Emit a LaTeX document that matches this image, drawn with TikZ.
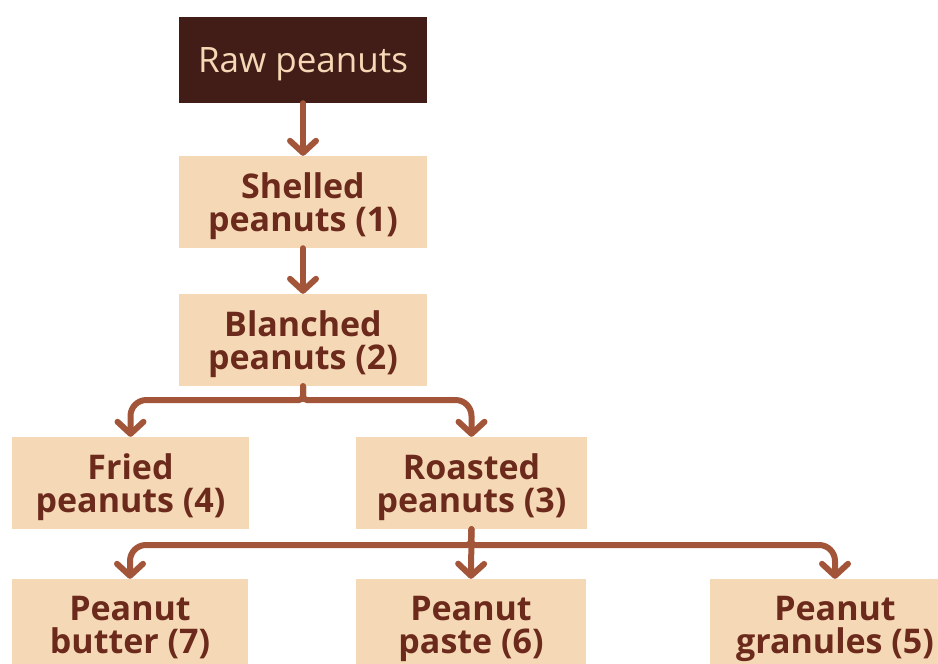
\documentclass[tikz,border=0pt]{standalone}
\usepackage{fontspec}
\setmainfont{Open Sans}
\usetikzlibrary{arrows.meta}
\definecolor{darkbox}{HTML}{421C17}
\definecolor{peach}{HTML}{F5D8B5}
\definecolor{brtext}{HTML}{6B2A1B}
\definecolor{arrowc}{HTML}{A3553A}
\tikzset{
  rawbox/.style={fill=darkbox, text=peach, minimum width=248pt, minimum height=86pt, inner sep=0pt, text depth=0pt, font=\fontsize{35}{33}\selectfont},
  stepbox/.style={fill=peach, text=brtext, inner sep=0pt, minimum height=92pt, align=center, text depth=0pt, font=\fontsize{34}{33}\selectfont\bfseries},
  arr/.style={draw=arrowc, line width=6pt, line cap=round, -{Straight Barb[length=12pt,width=26pt,line cap=round,line join=round]}},
}
\begin{document}
\begin{tikzpicture}[x=1pt,y=-1pt]
\clip (0,0) rectangle (938,664);
\fill[white] (0,0) rectangle (938,664);
\node[rawbox] (raw) at (303,60) {Raw peanuts};
\node[stepbox, minimum width=248pt] (shelled) at (303,202) {Shelled\\peanuts (1)};
\node[stepbox, minimum width=248pt] (blanched) at (303,340) {Blanched\\peanuts (2)};
\node[stepbox, minimum width=237pt] (fried) at (130.5,483) {Fried\\peanuts (4)};
\node[stepbox, minimum width=231pt] (roasted) at (471.5,483) {Roasted\\peanuts (3)};
\node[stepbox, minimum width=236pt] (butter) at (130,625) {Peanut\\butter (7)};
\node[stepbox, minimum width=230pt] (paste) at (471,625) {Peanut\\paste (6)};
\node[stepbox, minimum width=250pt] (granules) at (835,625) {Peanut\\granules (5)};
\coordinate (bj) at (303,400);
\coordinate (rj) at (471,545);
\draw[arr] (raw.south) -- (shelled.north);
\draw[arr] (shelled.south) -- (blanched.north);
\draw[arr] (blanched.south) [rounded corners=4pt] -- (bj) [rounded corners=16pt] -| (fried.north);
\draw[arr] (blanched.south) [rounded corners=4pt] -- (bj) [rounded corners=16pt] -| (roasted.north);
\draw[arr] (roasted.south) [rounded corners=4pt] -- (rj) [rounded corners=16pt] -| (butter.north);
\draw[arr] (roasted.south) -- (paste.north);
\draw[arr] (roasted.south) [rounded corners=4pt] -- (rj) [rounded corners=16pt] -| (granules.north);
\end{tikzpicture}
\end{document}
